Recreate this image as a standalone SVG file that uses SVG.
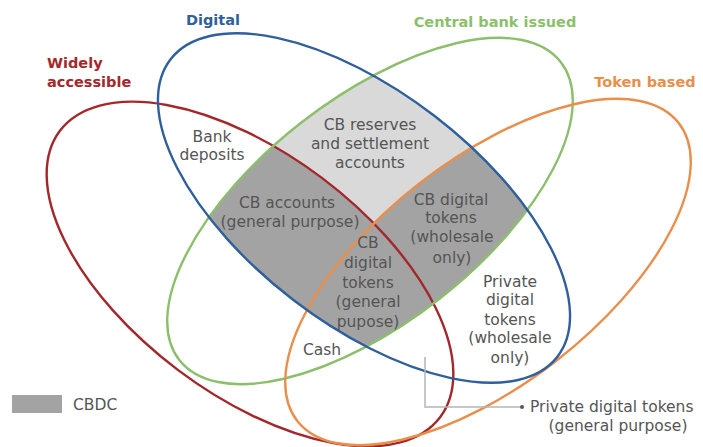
<svg xmlns="http://www.w3.org/2000/svg" width="703" height="447" viewBox="0 0 703 447">
<style>
.set{fill:none;stroke-width:2.4}
.title{font-family:"DejaVu Sans",sans-serif;font-weight:bold;font-size:14.5px}
.lbl{font-family:"DejaVu Sans",sans-serif;font-size:15.5px;fill:#555;text-anchor:middle}
.start{text-anchor:start}
.light{fill:#d9d9d9}
.dark{fill:#a3a3a3}
</style>
<defs>
<clipPath id="clipBlue"><ellipse cx="364" cy="208" rx="244" ry="116" transform="rotate(37.5 364 208)"/></clipPath>
<clipPath id="clipGreen"><ellipse cx="370" cy="211" rx="242" ry="112" transform="rotate(-38 370 211)"/></clipPath>
</defs>
<rect width="703" height="447" fill="#fff"/>
<g id="shading">
<g clip-path="url(#clipBlue)">
<ellipse class="light" cx="370" cy="211" rx="242" ry="112" transform="rotate(-38 370 211)"/>
<g clip-path="url(#clipGreen)">
<ellipse class="dark" cx="250" cy="274" rx="238" ry="120" transform="rotate(37 250 274)"/>
<ellipse class="dark" cx="488" cy="272" rx="242" ry="112" transform="rotate(-38 488 272)"/>
</g>
</g>
</g>
<g id="widely-accessible">
<ellipse class="set" stroke="#a3282c" cx="250" cy="274" rx="238" ry="120" transform="rotate(37 250 274)"/>
<text class="title" fill="#a3282c" x="47" y="68">Widely</text>
<text class="title" fill="#a3282c" x="47" y="87">accessible</text>
</g>
<g id="central-bank-issued">
<ellipse class="set" stroke="#8cbf6c" cx="370" cy="211" rx="242" ry="112" transform="rotate(-38 370 211)"/>
<text class="title" fill="#8cbf6c" x="495" y="27" text-anchor="middle">Central bank issued</text>
</g>
<g id="token-based">
<ellipse class="set" stroke="#e98f4c" cx="488" cy="272" rx="242" ry="112" transform="rotate(-38 488 272)"/>
<text class="title" fill="#e98f4c" x="645" y="87" text-anchor="middle">Token based</text>
</g>
<g id="digital">
<ellipse class="set" stroke="#2f5f9c" cx="364" cy="208" rx="244" ry="116" transform="rotate(37.5 364 208)"/>
<text class="title" fill="#2f5f9c" x="213" y="25" text-anchor="middle">Digital</text>
</g>
<g id="bank-deposits">
<text class="lbl" x="212" y="142">Bank</text>
<text class="lbl" x="212" y="160">deposits</text>
</g>
<g id="cb-reserves">
<text class="lbl" x="370" y="130">CB reserves</text>
<text class="lbl" x="370" y="149">and settlement</text>
<text class="lbl" x="370" y="168">accounts</text>
</g>
<g id="cb-accounts">
<text class="lbl" x="287" y="208">CB accounts</text>
<text class="lbl" x="290" y="227">(general purpose)</text>
</g>
<g id="cb-digital-wholesale">
<text class="lbl" x="451" y="205">CB digital</text>
<text class="lbl" x="451" y="223">tokens</text>
<text class="lbl" x="452" y="242">(wholesale</text>
<text class="lbl" x="452" y="263">only)</text>
</g>
<g id="cb-digital-general">
<text class="lbl" x="368" y="248">CB</text>
<text class="lbl" x="368" y="268">digital</text>
<text class="lbl" x="368" y="288">tokens</text>
<text class="lbl" x="368" y="307">(general</text>
<text class="lbl" x="368" y="327">pupose)</text>
</g>
<g id="private-wholesale">
<text class="lbl" x="510" y="287">Private</text>
<text class="lbl" x="510" y="305">digital</text>
<text class="lbl" x="510" y="325">tokens</text>
<text class="lbl" x="510" y="343">(wholesale</text>
<text class="lbl" x="510" y="363">only)</text>
</g>
<g id="cash">
<text class="lbl" x="322" y="355">Cash</text>
</g>
<g id="private-general">
<text class="lbl start" x="530" y="412">Private digital tokens</text>
<text class="lbl" x="618" y="431">(general purpose)</text>
</g>
<g id="legend">
<rect x="12" y="395" width="50" height="18" fill="#a3a3a3"/>
<text class="lbl start" x="73" y="410">CBDC</text>
</g>
<g id="connectors">
<polyline points="425,357 425,407 520,407" fill="none" stroke="#b5b5b5" stroke-width="1.5"/>
<circle cx="522" cy="407" r="2" fill="#555"/>
</g>
</svg>
